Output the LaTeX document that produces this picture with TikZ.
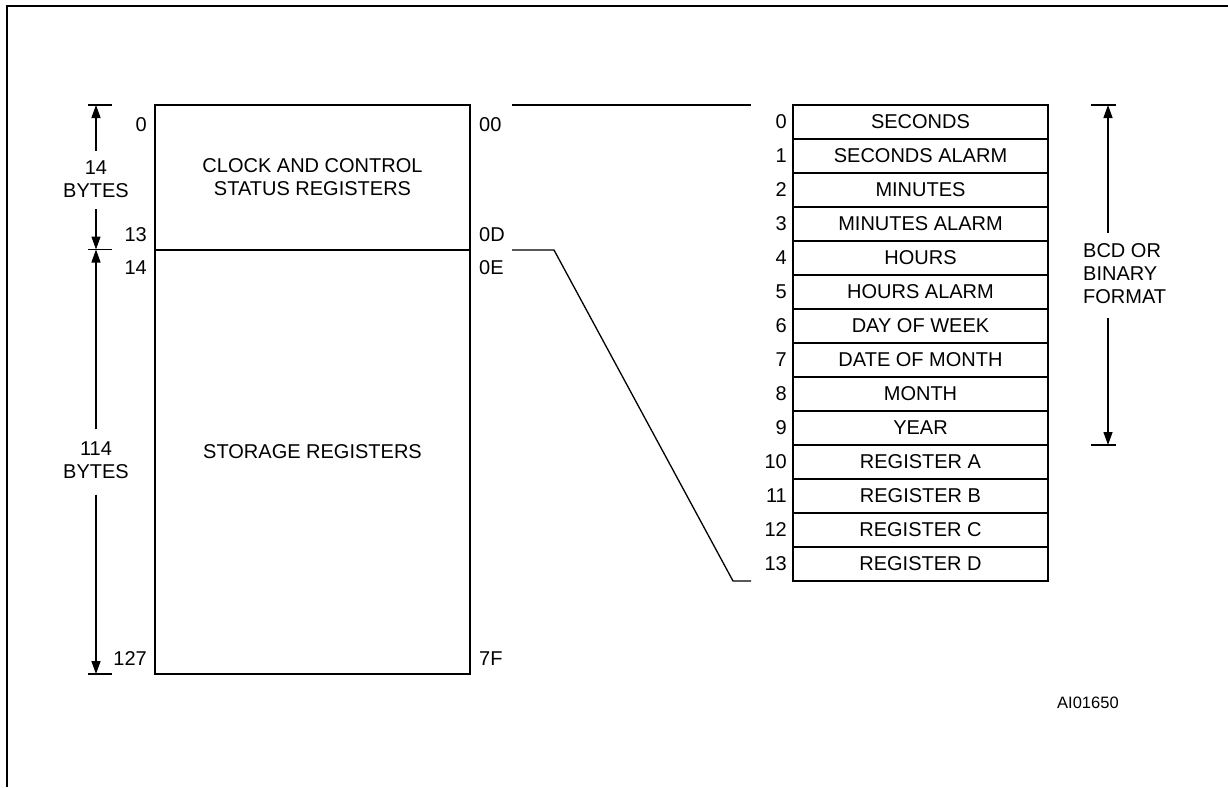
\documentclass[tikz,border=0pt]{standalone}
\usepackage{fontspec}
\setmainfont{Liberation Sans}
\usepackage{tikz}
\usetikzlibrary{calc,arrows.meta}

\begin{document}
\begin{tikzpicture}[x=1pt,y=-1pt,
  txt/.style={font=\fontsize{20}{23}\selectfont, inner sep=0pt},
  box/.style={draw, line width=2.8pt, outer sep=0pt, txt, align=center},
  cell/.style={box, minimum width=255pt, minimum height=34pt},
  thinline/.style={line width=1.3pt},
  dimarrow/.style={thinline, -{Triangle[length=13pt,width=9pt]}}]
  \useasboundingbox (0,0) rectangle (1228,787);
  \draw[line width=2.8pt] (7,787) -- (7,6) -- (1228,6);

  % memory map
  \node[box, minimum width=315pt, minimum height=145pt] (clk) at (312.5,177.5) {CLOCK AND CONTROL\\STATUS REGISTERS};
  \node[box, minimum width=315pt, minimum height=424pt] (stor) at (312.5,462) {};
  \node[txt] (storlbl) at (312.5,452) {STORAGE REGISTERS};

  \node[txt, anchor=east] (a0) at (147,125) {0};
  \node[txt, anchor=east] (a13) at (147,235) {13};
  \node[txt, anchor=east] (a14) at (147,268) {14};
  \node[txt, anchor=east] (a127) at (147,659) {127};
  \node[txt, anchor=west] (h00) at (479,125) {00};
  \node[txt, anchor=west] (h0D) at (479,235) {0D};
  \node[txt, anchor=west] (h0E) at (479,268) {0E};
  \node[txt, anchor=west] (h7F) at (479,659) {7F};

  % byte counts
  \node[txt, align=center] (n14) at (96,179.5) {14\\BYTES};
  \node[txt, align=center] (n114) at (96,460) {114\\BYTES};
  \draw[thinline] (88,105) coordinate(T0) -- (112,105);
  \draw[thinline] (88,249.5) coordinate(T1) -- (112,249.5);
  \draw[thinline] (88,674) coordinate(T2) -- (112,674);
  \draw[dimarrow] ($(n14.north)+(0,-10)$) -- ($(T0)+(8,0)$);
  \draw[dimarrow] ($(n14.south)+(0,11)$) -- ($(T1)+(8,0)$);
  \draw[dimarrow] ($(n114.north)+(0,-12)$) -- ($(T1)+(8,0)$);
  \draw[dimarrow] ($(n114.south)+(0,16)$) -- ($(T2)+(8,0)$);

  % clock registers
  \foreach \name [count=\i from 0] in {SECONDS,SECONDS ALARM,MINUTES,MINUTES ALARM,HOURS,HOURS ALARM,DAY OF WEEK,DATE OF MONTH,MONTH,YEAR,REGISTER A,REGISTER B,REGISTER C,REGISTER D}{
    \node[cell] (r\i) at (920.5,122+34*\i) {\name};
    \node[txt, anchor=east] (k\i) at ($(r\i.west)+(-6,0)$) {\i};
  }

  \draw[thinline] ($(clk.north east)+(42,0)$) -- ($(r0.north west)+(-42,0)$);
  \draw[thinline] ($(clk.south east)+(42,0)$) -- ++(42,0)
    -- ($(r13.south west)+(-60,0)$) -- ++(18,0);

  % format span
  \node[txt, anchor=west, align=left] (fmt) at (1083,274) {BCD OR\\BINARY\\FORMAT};
  \draw[thinline] (1091,105) coordinate(F0) -- (1116,105);
  \draw[thinline] (1091,445) coordinate(F1) -- (1116,445);
  \draw[dimarrow] (1108,233) -- ($(F0)+(17,0)$);
  \draw[dimarrow] (1108,318) -- ($(F1)+(17,0)$);

  \node[font=\fontsize{16.5}{19}\selectfont, inner sep=0pt, anchor=west] (fig) at (1057,703) {AI01650};
\end{tikzpicture}
\end{document}
